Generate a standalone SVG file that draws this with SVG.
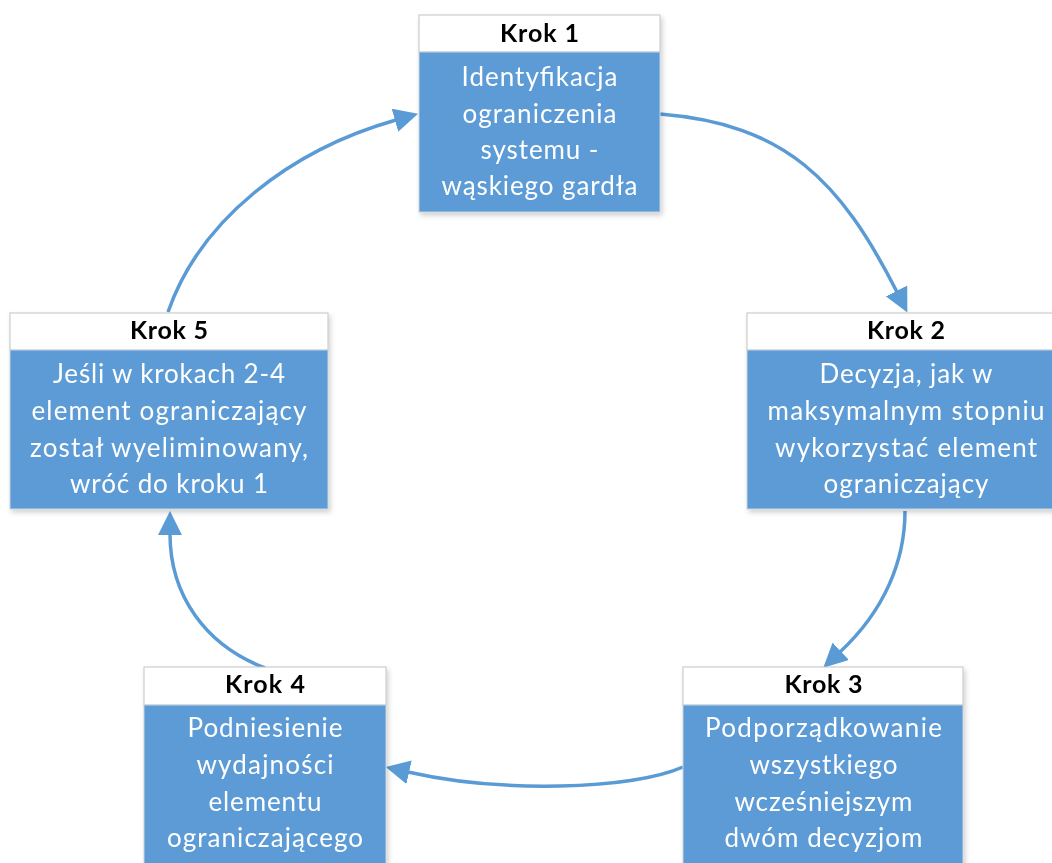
<svg xmlns="http://www.w3.org/2000/svg" width="1052" height="863" viewBox="0 0 1052 863">
<style>
.hdr{fill:#ffffff;stroke:#c4c4c4;stroke-width:1}
.body{fill:#5b9bd5;stroke:#c9d3dd;stroke-width:1}
.ht{font-family:Lato,"Liberation Sans",sans-serif;font-weight:bold;font-size:25px;fill:#000000;text-anchor:middle}
.bt{font-family:Lato,"Liberation Sans",sans-serif;font-size:26px;fill:#ffffff;text-anchor:middle}
.conn{fill:none;stroke:#5b9bd5;stroke-width:3.5;marker-end:url(#ah)}
</style>
<defs>
<filter id="sh" x="-10%" y="-10%" width="130%" height="130%">
<feDropShadow dx="2" dy="3" stdDeviation="2.5" flood-color="#000" flood-opacity="0.18"/>
</filter>
<marker id="ah" markerUnits="userSpaceOnUse" markerWidth="24" markerHeight="24" viewBox="0 0 22 22" refX="1" refY="11" orient="auto">
<path d="M0,0 L22,11 L0,22 z" fill="#5b9bd5"/>
</marker>
</defs>
<rect width="1052" height="863" fill="#ffffff"/>

<g id="connectors">
<path class="conn" d="M660,114 C785,124 840,180 897,292"/>
<path class="conn" d="M905,511 C905,560 885,610 840,652"/>
<path class="conn" d="M683,767 C630,790 500,793 408,772"/>
<path class="conn" d="M265,668 C205,645 170,595 170,534"/>
<path class="conn" d="M168,312 C200,220 290,150 396,120"/>
</g>

<g id="node1" filter="url(#sh)">
<rect class="hdr" x="419" y="15" width="241" height="37"/>
<rect class="body" x="419" y="52" width="241" height="160"/>
<text class="ht" x="539.5" y="42" textLength="79" lengthAdjust="spacing">Krok 1</text>
<text class="bt" x="539.5" y="86" textLength="156" lengthAdjust="spacing">Identyfikacja</text>
<text class="bt" x="539.5" y="123" textLength="154" lengthAdjust="spacing">ograniczenia</text>
<text class="bt" x="539.5" y="159" textLength="118" lengthAdjust="spacing">systemu -</text>
<text class="bt" x="539.5" y="195" textLength="196" lengthAdjust="spacing">wąskiego gardła</text>
</g>

<g id="node2" filter="url(#sh)">
<rect class="hdr" x="747" y="313" width="318" height="37"/>
<rect class="body" x="747" y="350" width="318" height="159"/>
<text class="ht" x="906" y="339" textLength="78" lengthAdjust="spacing">Krok 2</text>
<text class="bt" x="906" y="383" textLength="173" lengthAdjust="spacing">Decyzja, jak w</text>
<text class="bt" x="906" y="420" textLength="277" lengthAdjust="spacing">maksymalnym stopniu</text>
<text class="bt" x="906" y="457" textLength="262" lengthAdjust="spacing">wykorzystać element</text>
<text class="bt" x="906" y="493" textLength="165" lengthAdjust="spacing">ograniczający</text>
</g>

<g id="node3" filter="url(#sh)">
<rect class="hdr" x="683" y="667" width="280" height="38"/>
<rect class="body" x="683" y="705" width="280" height="165"/>
<text class="ht" x="823.5" y="693" textLength="78" lengthAdjust="spacing">Krok 3</text>
<text class="bt" x="823.5" y="737" textLength="237" lengthAdjust="spacing">Podporządkowanie</text>
<text class="bt" x="823.5" y="774" textLength="148" lengthAdjust="spacing">wszystkiego</text>
<text class="bt" x="823.5" y="811" textLength="178" lengthAdjust="spacing">wcześniejszym</text>
<text class="bt" x="823.5" y="847" textLength="198" lengthAdjust="spacing">dwóm decyzjom</text>
</g>

<g id="node4" filter="url(#sh)">
<rect class="hdr" x="144" y="667" width="242" height="38"/>
<rect class="body" x="144" y="705" width="242" height="165"/>
<text class="ht" x="265" y="693" textLength="80" lengthAdjust="spacing">Krok 4</text>
<text class="bt" x="265" y="737" textLength="155" lengthAdjust="spacing">Podniesienie</text>
<text class="bt" x="265" y="774" textLength="137" lengthAdjust="spacing">wydajności</text>
<text class="bt" x="265" y="811" textLength="113" lengthAdjust="spacing">elementu</text>
<text class="bt" x="265" y="847" textLength="196" lengthAdjust="spacing">ograniczającego</text>
</g>

<g id="node5" filter="url(#sh)">
<rect class="hdr" x="10" y="313" width="318" height="37"/>
<rect class="body" x="10" y="350" width="318" height="159"/>
<text class="ht" x="169" y="339" textLength="78" lengthAdjust="spacing">Krok 5</text>
<text class="bt" x="169" y="383" textLength="232" lengthAdjust="spacing">Jeśli w krokach 2-4</text>
<text class="bt" x="169" y="420" textLength="275" lengthAdjust="spacing">element ograniczający</text>
<text class="bt" x="169" y="457" textLength="278" lengthAdjust="spacing">został wyeliminowany,</text>
<text class="bt" x="169" y="493" textLength="198" lengthAdjust="spacing">wróć do kroku 1</text>
</g>
</svg>
